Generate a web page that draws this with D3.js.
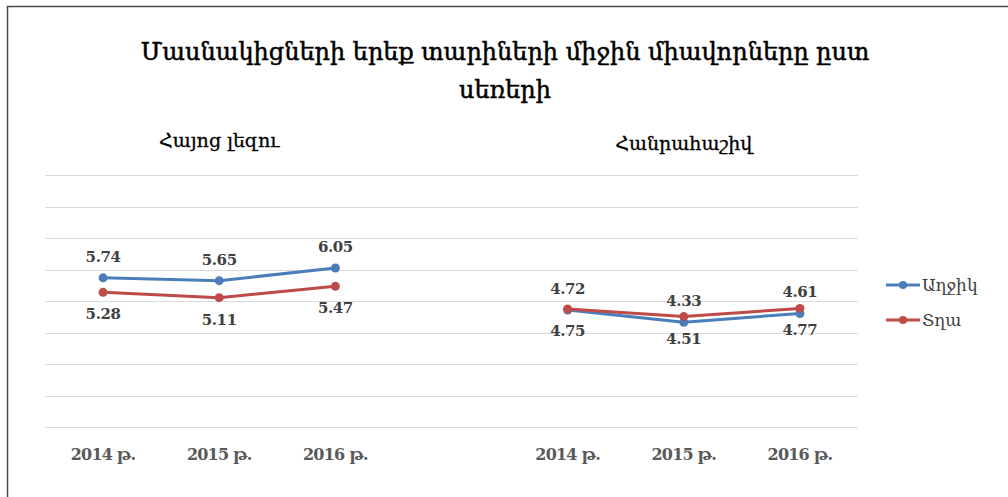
<!DOCTYPE html>
<html>
<head>
<meta charset="utf-8">
<script src="https://cdn.jsdelivr.net/npm/d3@7"></script>
<style>
  body { margin: 0; background: #fff; }
  text { font-family: Sylfaen, "DejaVu Serif", serif; }
</style>
</head>
<body>
<svg id="chart" width="1008" height="497"></svg>
<script>
// chart data
var categories = ["2014 թ.", "2015 թ.", "2016 թ.", "", "2014 թ.", "2015 թ.", "2016 թ."];
var subjects = ["Հայոց լեզու", "Հանրահաշիվ"];
var girls = [5.74, 5.65, 6.05, null, 4.72, 4.33, 4.61];
var boys = [5.28, 5.11, 5.47, null, 4.75, 4.51, 4.77];
var seriesNames = ["Աղջիկ", "Տղա"];
var colors = ["#4a7ebb", "#be4b48"];
var yTicks = [1, 2, 3, 4, 5, 6, 7, 8, 9];

var svg = d3.select("#chart");

// frame (only top & left edges visible in the crop)
svg.append("path")
    .attr("d", "M7.5,497 L7.5,6.5 L1008,6.5")
    .attr("fill", "none")
    .attr("stroke", "#4a4a4a")
    .attr("stroke-width", 1.5);

var xScale = d3.scaleBand().domain(d3.range(categories.length)).range([45, 858]);
var yScale = d3.scaleLinear().domain([1, 9]).range([427.3, 175]);

function cx(i) { return xScale(i) + xScale.bandwidth() / 2; }

// gridlines
svg.append("g").selectAll("line")
    .data(yTicks)
    .enter().append("line")
    .attr("x1", 45).attr("x2", 858)
    .attr("y1", function (d) { return Math.round(yScale(d)) + 0.5; })
    .attr("y2", function (d) { return Math.round(yScale(d)) + 0.5; })
    .attr("stroke", "#d9d9d9")
    .attr("stroke-width", 1);

// category labels
svg.append("g").selectAll("text")
    .data(categories)
    .enter().append("text")
    .attr("x", function (d, i) { return cx(i); })
    .attr("y", 460)
    .attr("text-anchor", "middle")
    .attr("font-size", 16)
    .attr("letter-spacing", -0.8)
    .attr("font-weight", "bold")
    .attr("fill", "#595959")
    .text(function (d) { return d; });

// title
var title = svg.append("text")
    .attr("x", 505)
    .attr("text-anchor", "middle")
    .attr("font-size", 24)
    .attr("fill", "#000")
    .attr("stroke", "#000")
    .attr("stroke-width", 0.5);
title.append("tspan").attr("x", 505).attr("y", 60).text("Մասնակիցների երեք տարիների միջին միավորները ըստ");
title.append("tspan").attr("x", 505).attr("y", 98).text("սեռերի");

// subject labels
svg.append("g").selectAll("text")
    .data(subjects)
    .enter().append("text")
    .attr("x", function (d, i) { return cx(i === 0 ? 1 : 5); })
    .attr("y", function (d, i) { return i === 0 ? 147 : 150; })
    .attr("text-anchor", "middle")
    .attr("font-size", 19)
    .attr("fill", "#000")
    .attr("stroke", "#000")
    .attr("stroke-width", 0.3)
    .text(function (d) { return d; });

// series
var line = d3.line()
    .defined(function (d) { return d != null; })
    .x(function (d, i) { return cx(i); })
    .y(function (d) { return yScale(d); });

[girls, boys].forEach(function (vals, s) {
    var g = svg.append("g");
    g.append("path")
        .datum(vals)
        .attr("d", line)
        .attr("fill", "none")
        .attr("stroke", colors[s])
        .attr("stroke-width", 3)
        .attr("stroke-linejoin", "round");
    var pts = vals.map(function (v, i) { return { v: v, i: i }; })
        .filter(function (d) { return d.v != null; });
    g.selectAll("circle")
        .data(pts)
        .enter().append("circle")
        .attr("cx", function (d) { return cx(d.i); })
        .attr("cy", function (d) { return yScale(d.v); })
        .attr("r", 4.5)
        .attr("fill", colors[s]);
    g.selectAll("text")
        .data(pts)
        .enter().append("text")
        .attr("x", function (d) { return cx(d.i); })
        .attr("y", function (d) { return yScale(d.v) + (s === 0 ? -16 : 27); })
        .attr("text-anchor", "middle")
        .attr("font-size", 15)
        .attr("letter-spacing", -0.4)
        .attr("font-weight", "bold")
        .attr("fill", "#404040")
        .text(function (d) { return d.v.toFixed(2); });
});

// legend
var legend = svg.append("g").selectAll("g")
    .data(seriesNames)
    .enter().append("g")
    .attr("transform", function (d, i) { return "translate(886," + (285 + i * 35) + ")"; });
legend.append("line")
    .attr("x1", 0).attr("x2", 34)
    .attr("stroke", function (d, i) { return colors[i]; })
    .attr("stroke-width", 3);
legend.append("circle")
    .attr("cx", 17).attr("r", 4)
    .attr("fill", function (d, i) { return colors[i]; });
legend.append("text")
    .attr("x", 36).attr("y", 6)
    .attr("font-size", 17)
    .attr("fill", "#404040")
    .text(function (d) { return d; });
</script>
</body>
</html>
